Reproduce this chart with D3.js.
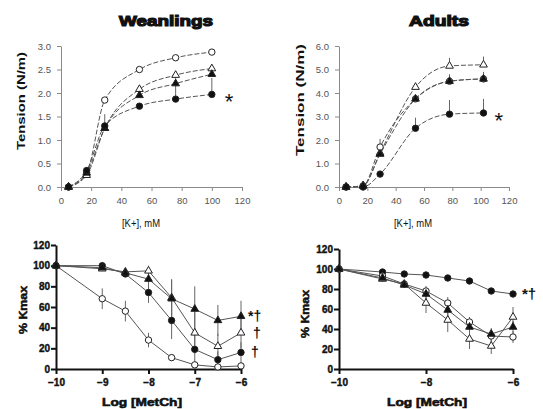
<!DOCTYPE html>
<html>
<head>
<meta charset="utf-8">
<script src="https://cdn.jsdelivr.net/npm/d3@7"></script>
<style>
body { margin: 0; background: #fff; }
svg { display: block; font-family: "Liberation Sans", Arial, sans-serif; }
</style>
</head>
<body>
<div id="chart"></div>
<script>
// ---- data ----
// top panels: tension vs [K+]
const kWean = [5, 17, 29, 52, 76, 100];
const kAdult = [5, 17, 29, 54, 78, 102];
const kTicks = [0, 20, 40, 60, 80, 100, 120];

const weanOpenCircle = [0, 0.3, 1.85, 2.5, 2.75, 2.87];
const weanOpenTriangle = [0, 0.25, 1.25, 2.08, 2.38, 2.52];
const weanFilledTriangle = [0, 0.3, 1.25, 1.95, 2.2, 2.4];
const weanFilledCircle = [0, 0.35, 1.3, 1.72, 1.87, 1.97];
const weanOpenCircleErr = [0, 0, 0, 0, 0.05, 0.05];
const weanOpenTriangleErr = [0, 0, 0, 0, 0.08, 0.08];
const weanFilledTriangleErr = [0, 0, 0, 0, 0, 0];
const weanFilledCircleErr = [0, 0.05, 0.25, 0.05, 0.5, 0.35];
const weanTicks = [0, 0.5, 1.0, 1.5, 2.0, 2.5, 3.0];

const adultOpenTriangle = [0, 0.05, 1.45, 4.25, 5.15, 5.2];
const adultOpenCircle = [0, 0.05, 1.7, 3.75, 4.5, 4.6];
const adultFilledTriangle = [0, 0.05, 1.4, 3.75, 4.5, 4.6];
const adultFilledCircle = [0, 0, 0.55, 2.5, 3.1, 3.15];
const adultOpenTriangleErr = [0, 0, 0.1, 0.1, 0.35, 0.35];
const adultOpenCircleErr = [0, 0, 0.35, 0.1, 0.1, 0.1];
const adultFilledTriangleErr = [0, 0, 0.1, 0.15, 0.3, 0.3];
const adultFilledCircleErr = [0, 0, 0.1, 0.45, 0.6, 0.6];
const adultTicks = [0, 1, 2, 3, 4, 5, 6];

// bottom panels: % Kmax vs log[MetCh]
const logMetCh = [-10, -9, -8.5, -8, -7.5, -7, -6.5, -6];
const pctTicks = [0, 20, 40, 60, 80, 100, 120];
const logTicksWean = [-10, -9, -8, -7, -6];
const logTicksAdult = [-10, -8, -6];

const wPctOpenCircle = [100, 68, 56, 28, 11, 4, 2, 3];
const wPctFilledCircle = [100, 100, 92, 74, 47, 19, 9, 16];
const wPctFilledTriangle = [100, 98, 93, 87, 68, 58, 47, 51];
const wPctOpenTriangle = [100, 97, 94, 95, 69, 35, 22, 35];
const wPctOpenCircleErr = [0, 10, 10, 7, 3, 2, 2, 2];
const wPctFilledCircleErr = [0, 2, 3, 10, 18, 18, 8, 10];
const wPctFilledTriangleErr = [0, 2, 3, 5, 18, 22, 15, 15];
const wPctOpenTriangleErr = [0, 2, 3, 5, 18, 20, 12, 15];

const aPctFilledCircle = [100, 97, 95, 94, 91, 88, 78, 75];
const aPctFilledTriangle = [100, 91, 84, 75, 59, 42, 35, 42];
const aPctOpenCircle = [100, 93, 85, 78, 66, 47, 33, 32];
const aPctOpenTriangle = [100, 90, 85, 66, 49, 30, 23, 52];
const aPctFilledCircleErr = [0, 1, 1, 1, 1, 1, 1, 1];
const aPctFilledTriangleErr = [0, 3, 3, 6, 8, 6, 6, 6];
const aPctOpenCircleErr = [0, 3, 3, 5, 6, 5, 6, 6];
const aPctOpenTriangleErr = [0, 3, 4, 10, 12, 10, 8, 10];

const W = 543, H = 409;
const svg = d3.select("#chart").append("svg")
    .attr("width", W)
    .attr("height", H);

const zip = (xs, ys, es) => xs.map((x, i) => ({ x: x, y: ys[i], e: es[i] }));

// panel layout (pixel boxes)
const panels = [
    {
        name: "wean",
        x: d3.scaleLinear().domain([0, 120]).range([61, 242]),
        y: d3.scaleLinear().domain([0, 3]).range([187, 46]),
        xTicks: kTicks, xFmt: d3.format("d"), yTicks: weanTicks, yFmt: d3.format(".1f"),
        bold: false, curve: d3.curveMonotoneX, errUp: true,
        series: [
            { shape: "circle", fill: false, pts: zip(kWean, weanOpenCircle, weanOpenCircleErr) },
            { shape: "triangle", fill: false, pts: zip(kWean, weanOpenTriangle, weanOpenTriangleErr) },
            { shape: "triangle", fill: true, pts: zip(kWean, weanFilledTriangle, weanFilledTriangleErr) },
            { shape: "circle", fill: true, pts: zip(kWean, weanFilledCircle, weanFilledCircleErr) }
        ],
        notes: [{ s: 3, text: "*", dx: 13, dy: 15, size: 22 }]
    },
    {
        name: "adult",
        x: d3.scaleLinear().domain([0, 120]).range([339, 509]),
        y: d3.scaleLinear().domain([0, 6]).range([187, 46]),
        xTicks: kTicks, xFmt: d3.format("d"), yTicks: adultTicks, yFmt: d3.format(".1f"),
        bold: false, curve: d3.curveMonotoneX, errUp: true,
        series: [
            { shape: "triangle", fill: false, pts: zip(kAdult, adultOpenTriangle, adultOpenTriangleErr) },
            { shape: "circle", fill: false, pts: zip(kAdult, adultOpenCircle, adultOpenCircleErr) },
            { shape: "triangle", fill: true, pts: zip(kAdult, adultFilledTriangle, adultFilledTriangleErr) },
            { shape: "circle", fill: true, pts: zip(kAdult, adultFilledCircle, adultFilledCircleErr) }
        ],
        notes: [{ s: 3, text: "*", dx: 11, dy: 15, size: 22 }]
    },
    {
        name: "weanPct",
        x: d3.scaleLinear().domain([-10, -6]).range([56, 241]),
        y: d3.scaleLinear().domain([0, 120]).range([369, 245]),
        xTicks: logTicksWean, xFmt: d3.format("d"), yTicks: pctTicks, yFmt: d3.format("d"),
        bold: true, curve: d3.curveLinear, errUp: false,
        series: [
            { shape: "circle", fill: false, pts: zip(logMetCh, wPctOpenCircle, wPctOpenCircleErr) },
            { shape: "circle", fill: true, pts: zip(logMetCh, wPctFilledCircle, wPctFilledCircleErr) },
            { shape: "triangle", fill: false, pts: zip(logMetCh, wPctOpenTriangle, wPctOpenTriangleErr) },
            { shape: "triangle", fill: true, pts: zip(logMetCh, wPctFilledTriangle, wPctFilledTriangleErr) }
        ],
        notes: [
            { s: 3, text: "*\u2020", dx: 7, dy: 5, size: 14 },
            { s: 2, text: "\u2020", dx: 12, dy: 5, size: 14 },
            { s: 1, text: "\u2020", dx: 10, dy: 5, size: 14 }
        ]
    },
    {
        name: "adultPct",
        x: d3.scaleLinear().domain([-10, -6]).range([339, 513]),
        y: d3.scaleLinear().domain([0, 120]).range([369, 249]),
        xTicks: logTicksAdult, xFmt: d3.format("d"), yTicks: pctTicks, yFmt: d3.format("d"),
        bold: true, curve: d3.curveLinear, errUp: false,
        series: [
            { shape: "circle", fill: true, pts: zip(logMetCh, aPctFilledCircle, aPctFilledCircleErr) },
            { shape: "circle", fill: false, pts: zip(logMetCh, aPctOpenCircle, aPctOpenCircleErr) },
            { shape: "triangle", fill: false, pts: zip(logMetCh, aPctOpenTriangle, aPctOpenTriangleErr) },
            { shape: "triangle", fill: true, pts: zip(logMetCh, aPctFilledTriangle, aPctFilledTriangleErr) }
        ],
        notes: [{ s: 0, text: "*\u2020", dx: 9, dy: 5, size: 15 }]
    }
];

const drawPanel = function (p) {
    const g = svg.append("g").attr("class", "panel-" + p.name);
    const axisColor = p.bold ? "#111" : "#8a8a8a";
    const axisWidth = p.bold ? 2 : 1;
    const labelColor = p.bold ? "#111" : "#555";
    const x0 = p.x.range()[0];
    const y0 = p.y.range()[0];

    // axes
    const xAxis = g.append("g")
        .attr("transform", "translate(0," + y0 + ")")
        .call(d3.axisBottom(p.x).tickValues(p.xTicks).tickFormat(p.xFmt).tickSize(p.bold ? 5 : 4).tickSizeOuter(0).tickPadding(p.bold ? 5 : 6));
    const yAxis = g.append("g")
        .attr("transform", "translate(" + x0 + ",0)")
        .call(d3.axisLeft(p.y).tickValues(p.yTicks).tickFormat(p.yFmt).tickSize(p.bold ? 5 : 4).tickSizeOuter(0).tickPadding(p.bold ? 1 : 6));
    [xAxis, yAxis].forEach(a => {
        a.selectAll(".domain").attr("stroke", axisColor).attr("stroke-width", axisWidth);
        a.selectAll(".tick line").attr("stroke", axisColor).attr("stroke-width", axisWidth);
        a.selectAll(".tick text")
            .attr("fill", labelColor)
            .style("font-family", "'Liberation Sans', Arial, sans-serif")
            .style("font-size", p.bold ? "10px" : "9.5px")
            .style("font-weight", p.bold ? "bold" : "normal");
        if (p.bold) a.selectAll(".tick text").attr("stroke", "#111").attr("stroke-width", 0.4);
    });

    // lines
    const line = d3.line()
        .x(d => p.x(d.x))
        .y(d => p.y(d.y))
        .curve(p.curve);
    p.series.forEach(s => {
        g.append("path")
            .datum(s.pts)
            .attr("d", line)
            .attr("fill", "none")
            .attr("stroke", "#555")
            .attr("stroke-width", 1)
            .attr("stroke-dasharray", p.bold ? null : "5,2");
    });

    // error bars
    p.series.forEach(s => {
        g.selectAll(null)
            .data(s.pts.filter(d => d.e > 0))
            .enter()
            .append("line")
            .attr("x1", d => p.x(d.x))
            .attr("x2", d => p.x(d.x))
            .attr("y1", d => p.y(p.errUp ? d.y : d.y - d.e))
            .attr("y2", d => p.y(d.y + d.e))
            .attr("stroke", "#666")
            .attr("stroke-width", 1);
    });

    // markers
    const tri = d3.symbol().type(d3.symbolTriangle).size(26);
    p.series.forEach(s => {
        const sel = g.selectAll(null)
            .data(s.pts)
            .enter();
        if (s.shape === "circle") {
            sel.append("circle")
                .attr("cx", d => p.x(d.x))
                .attr("cy", d => p.y(d.y))
                .attr("r", 3.2)
                .attr("fill", s.fill ? "#111" : "#fff")
                .attr("stroke", "#222")
                .attr("stroke-width", 1);
        } else {
            sel.append("path")
                .attr("d", tri)
                .attr("transform", d => "translate(" + p.x(d.x) + "," + p.y(d.y) + ")")
                .attr("fill", s.fill ? "#111" : "#fff")
                .attr("stroke", "#222")
                .attr("stroke-width", 1);
        }
    });

    // significance marks
    p.notes.forEach(n => {
        const last = p.series[n.s].pts[p.series[n.s].pts.length - 1];
        g.append("text")
            .attr("x", p.x(last.x) + n.dx)
            .attr("y", p.y(last.y) + n.dy)
            .attr("fill", "#111")
            .style("font-size", n.size + "px")
            .style("font-weight", p.bold ? "bold" : "normal")
            .text(n.text);
    });
};

panels.forEach(drawPanel);

// titles and axis labels
const addText = function (txt, x, y, size, opts) {
    opts = opts || {};
    const t = svg.append("text")
        .attr("x", x)
        .attr("y", y)
        .attr("text-anchor", "middle")
        .attr("fill", "#111")
        .style("font-size", size + "px")
        .style("font-weight", opts.weight || "bold")
        .text(txt);
    if (opts.rotate) t.attr("transform", "rotate(-90," + x + "," + y + ")");
    if (opts.len) t.attr("textLength", opts.len).attr("lengthAdjust", "spacingAndGlyphs");
    if (opts.stroke) t.attr("stroke", "#111").attr("stroke-width", opts.stroke);
    return t;
};

addText("Weanlings", 166, 26, 15, { len: 94, stroke: 1.2 });
addText("Adults", 439, 26, 15, { len: 60, stroke: 1.2 });

addText("Tension (N/m)", 25, 101, 11.5, { rotate: true, len: 98 });
addText("Tension (N/m)", 304, 100, 11.5, { rotate: true, len: 112 });

addText("[K+], mM", 141, 227, 10, { weight: "normal", len: 38 });
addText("[K+], mM", 413, 227, 10, { weight: "normal", len: 38 });

addText("% Kmax", 27, 310, 11, { rotate: true, len: 48, stroke: 0.5 });
addText("% Kmax", 309, 314, 11, { rotate: true, len: 48, stroke: 0.5 });

addText("Log [MetCh]", 142, 406, 11, { len: 80, stroke: 0.6 });
addText("Log [MetCh]", 427, 406, 11, { len: 80, stroke: 0.6 });
</script>
</body>
</html>
